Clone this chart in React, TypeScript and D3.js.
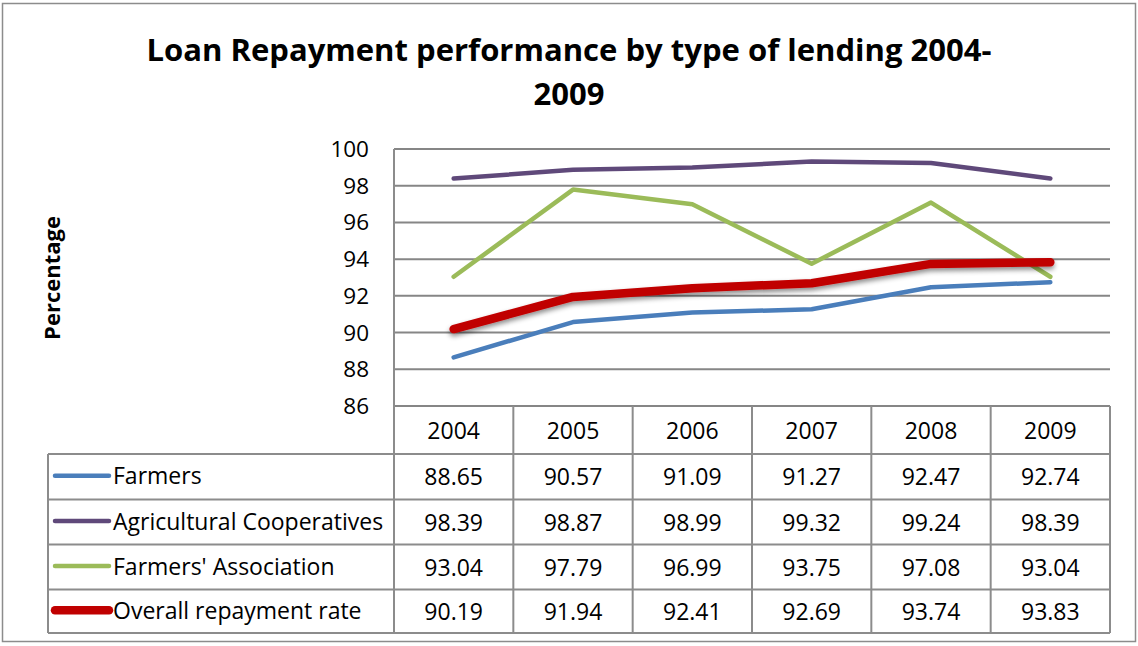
import React from "react";
import * as d3 from "d3";

const years = ["2004", "2005", "2006", "2007", "2008", "2009"];
const seriesNames = ["Farmers", "Agricultural Cooperatives", "Farmers' Association", "Overall repayment rate"];
const farmers = [88.65, 90.57, 91.09, 91.27, 92.47, 92.74];
const agriCoops = [98.39, 98.87, 98.99, 99.32, 99.24, 98.39];
const farmersAssoc = [93.04, 97.79, 96.99, 93.75, 97.08, 93.04];
const overall = [90.19, 91.94, 92.41, 92.69, 93.74, 93.83];
const yTicks = [86, 88, 90, 92, 94, 96, 98, 100];
const colors = ["#4A7EBB", "#5F497A", "#9BBB59", "#C00000"];
const widths = [4.5, 4.5, 4.5, 8.5];

const W = 1138, H = 646;
const plotL = 394, plotR = 1110, plotT = 149, plotB = 406;
const rowTops = [406, 454, 499.5, 544.5, 589.5, 633];
const legendL = 48;
const FONT = "'Open Sans', sans-serif";

export default function App() {
  const data = [farmers, agriCoops, farmersAssoc, overall];
  const x = d3.scaleBand<string>().domain(years).range([plotL, plotR]).padding(0);
  const y = d3.scaleLinear().domain([86, 100]).range([plotB, plotT]);
  const cx = (yr: string) => (x(yr) as number) + x.bandwidth() / 2;
  const line = d3.line<number>().x((_, i) => cx(years[i])).y((v) => y(v));
  const grid = "#868686";
  const border = "#8C8C8C";

  return (
    <svg width={W} height={H} style={{ position: "absolute", left: 0, top: 0, background: "#fff" }} fontFamily={FONT}>
      <defs>
        <filter id="shadow" x="-10%" y="-30%" width="120%" height="180%">
          <feDropShadow dx="0" dy="3" stdDeviation="2.5" floodColor="#000" floodOpacity="0.45" />
        </filter>
      </defs>
      <rect x={0} y={0} width={W} height={H} fill="#fff" />
      <rect x={2.5} y={3.5} width={1133} height={638} fill="none" stroke={border} strokeWidth={1.5} />

      {/* Title */}
      <text x={569} y={61} textAnchor="middle" fontWeight="bold" fontSize={31} textLength={845} lengthAdjust="spacingAndGlyphs">
        Loan Repayment performance by type of lending 2004-
      </text>
      <text x={569} y={105} textAnchor="middle" fontWeight="bold" fontSize={31}>
        2009
      </text>

      {/* Y axis title */}
      <text transform={`translate(60,278) rotate(-90)`} textAnchor="middle" fontWeight="bold" fontSize={22}>
        Percentage
      </text>

      {/* gridlines */}
      {yTicks.map((t) => (
        <line key={t} x1={plotL} x2={plotR} y1={y(t)} y2={y(t)} stroke={grid} strokeWidth={2} />
      ))}
      {yTicks.map((t) => (
        <text key={"l" + t} x={369} y={y(t) + 8} textAnchor="end" fontSize={22.5} fill="#000">
          {t}
        </text>
      ))}

      {/* table */}
      {rowTops.slice(1).map((ry) => (
        <line key={"r" + ry} x1={legendL} x2={plotR} y1={ry} y2={ry} stroke={border} strokeWidth={2} />
      ))}
      <line x1={legendL} x2={legendL} y1={rowTops[1]} y2={rowTops[5]} stroke={border} strokeWidth={2} />
      <line x1={plotL} x2={plotL} y1={plotT} y2={rowTops[5]} stroke={border} strokeWidth={2} />
      {years.map((yr) => (
        <line key={"c" + yr} x1={(x(yr) as number) + x.bandwidth()} x2={(x(yr) as number) + x.bandwidth()} y1={plotB} y2={rowTops[5]} stroke={border} strokeWidth={2} />
      ))}
      {years.map((yr) => (
        <text key={"h" + yr} x={cx(yr)} y={(rowTops[0] + rowTops[1]) / 2 + 8.5} textAnchor="middle" fontSize={23}>
          {yr}
        </text>
      ))}
      {data.map((vals, si) => {
        const mid = (rowTops[si + 1] + rowTops[si + 2]) / 2;
        return (
          <g key={"row" + si}>
            <line x1={55} x2={109} y1={mid - 1} y2={mid - 1} stroke={colors[si]} strokeWidth={widths[si]} strokeLinecap="round" />
            <text x={113} y={mid + 7.5} fontSize={23}>
              {seriesNames[si]}
            </text>
            {vals.map((v, i) => (
              <text key={i} x={cx(years[i])} y={mid + 8.5} textAnchor="middle" fontSize={23}>
                {v.toFixed(2)}
              </text>
            ))}
          </g>
        );
      })}

      {/* series lines */}
      {data.map((vals, si) => (
        <path
          key={"s" + si}
          d={line(vals) as string}
          fill="none"
          stroke={colors[si]}
          strokeWidth={widths[si]}
          strokeLinecap="round"
          strokeLinejoin="round"
          filter={si === 3 ? "url(#shadow)" : undefined}
        />
      ))}
    </svg>
  );
}
